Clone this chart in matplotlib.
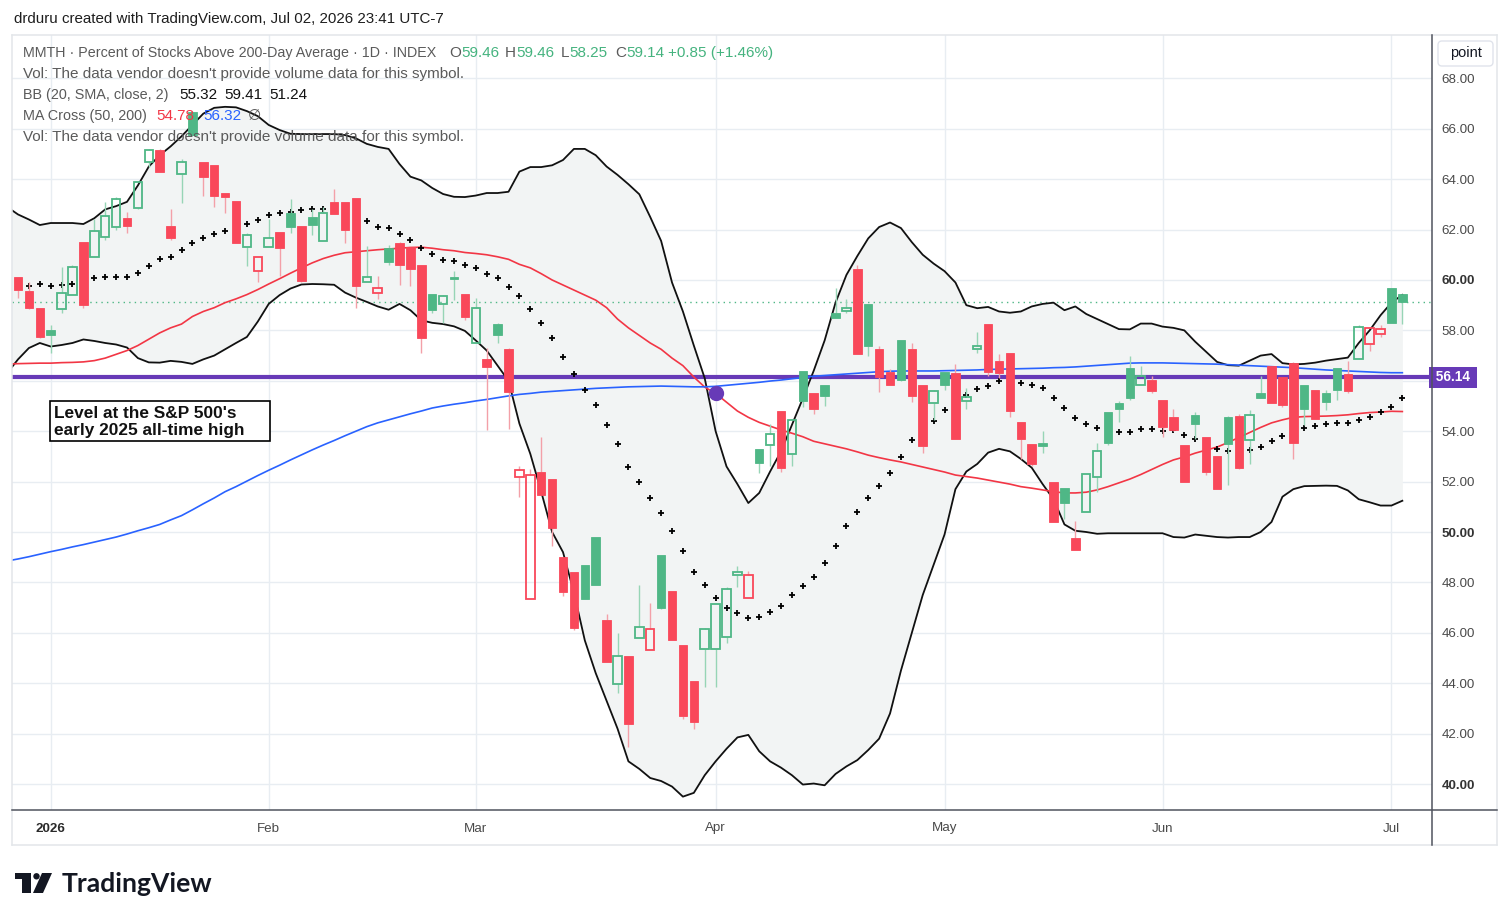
import numpy as np
import matplotlib
matplotlib.use("Agg")
import matplotlib.pyplot as plt
from matplotlib.patches import Rectangle, FancyBboxPatch, Polygon, Circle
from matplotlib.lines import Line2D
import matplotlib.transforms as mtransforms

# ---------------- data ----------------
month_labels = ['2026', 'Feb', 'Mar', 'Apr', 'May', 'Jun', 'Jul']
month_bar_index = [3, 23, 42, 64, 85, 105, 126]
y_ticks = [40, 42, 44, 46, 48, 50, 52, 54, 58, 60, 62, 64, 66, 68]

prior_close = 60.3
opens = [60.1, 59.55, 58.9, 58.0, 58.85, 59.4, 61.5, 60.9, 61.7, 62.1,
         62.45, 62.85, 64.7, 65.15, 62.15, 64.2, 66.65, 64.7, 64.55, 63.45,
         63.15, 61.3, 60.35, 61.3, 61.9, 62.65, 62.15, 62.5, 61.55, 63.1,
         63.1, 63.25, 59.9, 59.5, 61.25, 61.45, 61.3, 60.6, 59.45, 59.05,
         60.1, 59.45, 57.5, 56.85, 58.25, 57.25, 52.2, 47.35, 52.4, 52.1,
         49.0, 48.4, 48.7, 49.8, 46.5, 43.95, 45.1, 45.8, 45.3, 49.1,
         47.65, 45.5, 44.1, 45.35, 45.35, 45.85, 48.3, 47.4, 53.3, 53.45,
         54.8, 53.1, 56.4, 55.5, 55.85, 58.7, 58.75, 60.45, 59.05, 57.25,
         56.35, 57.6, 57.25, 55.85, 55.1, 56.35, 56.3, 55.2, 57.25, 58.25,
         56.8, 57.1, 54.35, 53.5, 53.55, 52.0, 51.75, 49.75, 50.8, 52.2,
         54.75, 55.1, 56.5, 55.85, 56.05, 55.25, 54.55, 53.45, 54.65, 53.75,
         53.0, 54.55, 54.6, 53.65, 55.5, 56.6, 56.15, 56.7, 55.85, 55.65,
         55.5, 56.5, 56.25, 56.85, 57.45, 57.85, 59.7, 59.46]
highs = [60.1, 59.9, 58.9, 58.2, 60.5, 60.6, 61.5, 62.4, 63.1, 63.3,
         62.7, 63.9, 65.2, 65.2, 62.8, 64.8, 66.7, 64.7, 64.55, 63.45,
         63.15, 61.85, 60.9, 62.4, 61.9, 63.2, 62.15, 62.8, 62.9, 63.6,
         63.1, 63.25, 61.35, 60.15, 61.4, 61.5, 61.3, 60.6, 59.45, 59.4,
         60.35, 59.45, 59.3, 57.3, 58.3, 57.3, 52.6, 52.5, 53.75, 52.1,
         49.0, 48.4, 48.7, 49.8, 46.75, 46.0, 45.1, 47.9, 47.2, 49.1,
         47.65, 45.5, 44.1, 46.2, 47.15, 47.8, 48.65, 48.45, 53.3, 54.3,
         54.8, 54.5, 56.4, 55.5, 55.85, 59.7, 59.25, 60.6, 59.05, 57.4,
         56.45, 57.6, 57.5, 55.85, 55.65, 56.35, 56.65, 55.7, 57.95, 58.25,
         57.05, 57.1, 54.35, 53.5, 54.0, 52.0, 51.75, 50.45, 52.3, 53.55,
         54.75, 55.2, 57.0, 56.6, 56.2, 55.25, 54.9, 53.45, 54.75, 53.75,
         53.0, 54.6, 54.7, 54.85, 56.2, 56.6, 56.15, 56.75, 55.85, 55.65,
         55.65, 56.5, 56.8, 58.2, 58.15, 58.2, 59.7, 59.46]
lows = [59.3, 58.85, 57.7, 57.1, 58.7, 59.4, 58.9, 60.9, 61.6, 62.0,
        61.85, 62.8, 64.5, 64.3, 61.6, 63.05, 65.7, 63.35, 62.9, 62.65,
        61.45, 60.55, 59.9, 61.3, 60.15, 61.85, 59.9, 61.8, 61.55, 62.6,
        61.45, 58.9, 59.9, 59.25, 60.6, 59.8, 59.75, 57.1, 58.7, 58.3,
        59.2, 58.4, 57.5, 54.05, 57.5, 54.1, 51.4, 47.35, 51.45, 49.45,
        47.45, 46.1, 47.35, 47.9, 44.85, 43.6, 41.45, 45.8, 45.3, 46.95,
        45.7, 42.6, 42.2, 43.85, 43.85, 45.6, 47.8, 47.4, 52.35, 52.6,
        52.4, 52.6, 54.95, 54.7, 55.0, 58.5, 58.7, 57.05, 57.0, 55.55,
        55.85, 56.0, 55.15, 53.15, 54.45, 55.65, 53.7, 54.9, 57.1, 56.2,
        56.1, 54.55, 52.9, 52.6, 53.15, 50.4, 50.5, 49.3, 50.8, 51.6,
        53.45, 54.35, 55.25, 55.85, 55.5, 53.75, 54.0, 52.0, 53.7, 52.25,
        51.7, 51.85, 52.5, 52.7, 55.3, 55.1, 54.95, 52.9, 54.25, 54.5,
        54.85, 55.25, 55.5, 56.85, 57.2, 57.75, 58.29, 58.25]
closes = [59.6, 58.9, 57.75, 57.8, 59.5, 60.5, 59.0, 61.95, 62.55, 63.2,
          62.15, 63.9, 65.15, 64.3, 61.65, 64.7, 65.75, 64.1, 63.35, 63.3,
          61.45, 61.8, 60.9, 61.65, 61.25, 62.1, 59.95, 62.2, 62.65, 62.6,
          62.0, 59.75, 60.1, 59.7, 60.7, 60.6, 60.45, 57.7, 58.8, 59.35,
          60.05, 58.55, 58.9, 56.55, 57.8, 55.55, 52.45, 52.25, 51.45, 50.15,
          47.6, 46.2, 47.35, 47.9, 44.85, 45.1, 42.4, 46.25, 46.15, 47.0,
          45.7, 42.7, 42.45, 46.15, 47.15, 47.75, 48.4, 48.3, 52.75, 53.9,
          52.55, 54.45, 55.2, 54.9, 55.4, 58.5, 58.9, 57.05, 57.4, 56.15,
          55.85, 56.05, 55.4, 53.4, 55.6, 55.85, 53.7, 55.35, 57.4, 56.35,
          56.3, 54.8, 53.7, 52.7, 53.4, 50.4, 51.15, 49.3, 52.3, 53.2,
          53.55, 54.9, 55.3, 56.2, 55.6, 54.15, 54.05, 52.0, 54.3, 52.4,
          51.7, 53.5, 52.55, 54.65, 55.3, 55.1, 55.05, 53.55, 54.9, 54.5,
          55.15, 55.65, 55.6, 58.15, 58.1, 58.05, 58.29, 59.14]

# indicator lines: first value belongs to the bar before the first candle
bb_upper = [62.9,
            62.6, 62.4, 62.18, 62.26, 62.26, 62.26, 62.22, 62.45, 62.8, 62.93,
            63.1, 63.75, 64.5, 64.95, 65.3, 65.7, 66.15, 66.6, 66.83, 66.87,
            66.85, 66.7, 66.5, 66.15, 65.95, 65.8, 65.79, 65.79, 65.79, 65.79,
            65.75, 65.62, 65.4, 65.28, 65.2, 64.6, 64.1, 63.95, 63.65, 63.41,
            63.3, 63.29, 63.35, 63.45, 63.45, 63.5, 64.3, 64.48, 64.48, 64.55,
            64.76, 65.2, 65.2, 64.95, 64.5, 64.17, 63.8, 63.4, 62.5, 61.55,
            59.9, 58.75, 57.4, 56.1, 54.0, 52.6, 51.9, 51.15, 51.55, 52.4,
            53.2, 54.25, 55.3, 56.4, 57.6, 59.1, 60.2, 60.95, 61.65, 62.1,
            62.28, 62.06, 61.5, 61.0, 60.65, 60.35, 59.9, 59.0, 58.88, 58.93,
            58.75, 58.7, 58.75, 58.95, 59.05, 59.1, 58.8, 58.95, 58.65, 58.45,
            58.25, 58.05, 58.04, 58.27, 58.27, 58.15, 58.1, 58.0, 57.55, 57.15,
            56.75, 56.62, 56.6, 56.8, 57.0, 57.06, 56.7, 56.65, 56.67, 56.72,
            56.8, 56.86, 56.92, 57.5, 58.0, 58.6, 59.1, 59.41]
bb_lower = [56.3,
            56.85, 57.3, 57.5, 57.36, 57.42, 57.5, 57.64, 57.58, 57.5, 57.44,
            57.32, 56.9, 56.73, 56.72, 56.79, 56.75, 56.67, 56.85, 57.0, 57.25,
            57.5, 57.74, 58.35, 59.05, 59.4, 59.66, 59.82, 59.84, 59.83, 59.81,
            59.5, 59.3, 59.13, 58.95, 58.82, 59.05, 58.8, 58.4, 58.3, 58.25,
            58.16, 57.98, 57.6, 57.2, 56.6, 56.0, 54.3, 53.1, 51.6, 50.0,
            49.2, 47.6, 45.7, 44.4, 43.3, 42.2, 40.9, 40.6, 40.24, 40.12,
            39.9, 39.5, 39.65, 40.35, 40.9, 41.4, 41.85, 41.95, 41.3, 40.9,
            40.65, 40.35, 39.98, 40.02, 39.95, 40.4, 40.7, 40.95, 41.35, 41.8,
            42.8, 44.5, 46.0, 47.5, 48.7, 49.9, 51.7, 52.4, 52.7, 53.15,
            53.3, 53.2, 52.9, 52.55, 51.9, 51.3, 50.3, 50.05, 50.0, 49.93,
            49.95, 49.95, 49.95, 49.95, 49.95, 49.95, 49.8, 49.78, 49.9, 49.85,
            49.8, 49.78, 49.8, 49.8, 50.0, 50.4, 51.4, 51.7, 51.82, 51.83,
            51.84, 51.83, 51.65, 51.3, 51.18, 51.05, 51.05, 51.24]
sma50 = [56.66,
         56.68, 56.69, 56.70, 56.70, 56.72, 56.73, 56.75, 56.80, 56.90, 57.05,
         57.20, 57.40, 57.65, 57.90, 58.10, 58.25, 58.55, 58.75, 58.90, 59.10,
         59.25, 59.42, 59.62, 59.84, 60.05, 60.27, 60.48, 60.68, 60.85, 60.98,
         61.08, 61.12, 61.16, 61.20, 61.23, 61.26, 61.29, 61.30, 61.26, 61.20,
         61.16, 61.09, 61.05, 61.00, 60.92, 60.82, 60.62, 60.48, 60.25, 60.00,
         59.80, 59.60, 59.40, 59.20, 58.90, 58.45, 58.10, 57.80, 57.50, 57.25,
         56.90, 56.60, 56.15, 55.75, 55.50, 55.15, 54.80, 54.55, 54.35, 54.20,
         54.05, 53.92, 53.78, 53.60, 53.50, 53.40, 53.30, 53.18, 53.05, 52.95,
         52.86, 52.78, 52.68, 52.58, 52.48, 52.38, 52.26, 52.20, 52.14, 52.06,
         51.98, 51.90, 51.80, 51.74, 51.67, 51.60, 51.55, 51.55, 51.58, 51.67,
         51.80, 51.95, 52.10, 52.28, 52.48, 52.68, 52.86, 52.98, 53.13, 53.25,
         53.37, 53.55, 53.75, 53.95, 54.15, 54.33, 54.45, 54.55, 54.58, 54.59,
         54.60, 54.62, 54.65, 54.70, 54.74, 54.76, 54.79, 54.78]
sma200 = [48.85,
          48.93, 49.02, 49.12, 49.22, 49.31, 49.41, 49.50, 49.60, 49.70, 49.80,
          49.92, 50.05, 50.17, 50.30, 50.48, 50.65, 50.88, 51.12, 51.35, 51.60,
          51.80, 52.02, 52.24, 52.45, 52.65, 52.86, 53.06, 53.26, 53.45, 53.63,
          53.82, 54.00, 54.18, 54.33, 54.45, 54.57, 54.69, 54.80, 54.92, 55.00,
          55.07, 55.13, 55.20, 55.26, 55.33, 55.40, 55.46, 55.50, 55.55, 55.58,
          55.61, 55.64, 55.67, 55.70, 55.72, 55.74, 55.76, 55.77, 55.78, 55.79,
          55.78, 55.77, 55.76, 55.76, 55.78, 55.82, 55.86, 55.90, 55.94, 55.99,
          56.03, 56.08, 56.13, 56.18, 56.21, 56.24, 56.27, 56.30, 56.33, 56.36,
          56.38, 56.39, 56.39, 56.39, 56.39, 56.40, 56.41, 56.42, 56.43, 56.45,
          56.46, 56.47, 56.48, 56.49, 56.50, 56.52, 56.53, 56.55, 56.58, 56.61,
          56.64, 56.67, 56.70, 56.71, 56.71, 56.71, 56.70, 56.69, 56.68, 56.67,
          56.66, 56.64, 56.62, 56.60, 56.58, 56.56, 56.54, 56.52, 56.49, 56.46,
          56.43, 56.41, 56.39, 56.37, 56.35, 56.33, 56.32, 56.32]
sar = [59.8, 59.76, 59.84, 59.76, 59.8, 59.84, 59.9, 60.08, 60.12, 60.12,
       60.12, 60.28, 60.56, 60.83, 60.91, 61.19, 61.47, 61.67, 61.83, 61.94,
       62.08, 62.22, 62.38, 62.58, 62.66, 62.7, 62.78, 62.82, 62.82, 62.85,
       62.88, 62.9, 62.34, 62.1, 62.06, 61.83, 61.59, 61.27, 61.03, 60.81,
       60.75, 60.6, 60.46, 60.24, 60.06, 59.72, 59.37, 58.85, 58.29, 57.7,
       56.94, 56.27, 55.63, 55.04, 54.25, 53.49, 52.58, 51.98, 51.35, 50.75,
       50.04, 49.25, 48.41, 47.9, 47.38, 46.98, 46.79, 46.59, 46.63, 46.83,
       47.06, 47.5, 47.86, 48.21, 48.77, 49.44, 50.22, 50.79, 51.35, 51.83,
       52.34, 52.98, 53.65, 54.05, 54.4, 54.84, 55.15, 55.44, 55.67, 55.8,
       55.99, 56.05, 55.9, 55.83, 55.71, 55.32, 54.92, 54.52, 54.29, 54.13,
       54.03, 53.97, 53.97, 54.09, 54.09, 54.0, 54.05, 53.85, 53.69, 53.45,
       53.29, 53.21, 53.2, 53.25, 53.37, 53.61, 53.81, 54.0, 54.13, 54.21,
       54.29, 54.33, 54.33, 54.44, 54.56, 54.76, 54.96, 55.32]

level_value = 56.14
level_text = "Level at the S&P 500's\nearly 2025 all-time high"
cross_bar = 64
bb_legend = ['55.32', '59.41', '51.24']
ma_legend = ['54.78', '56.32']

# ---------------- style ----------------
W, H = 1510, 921
GREEN = '#4fb786'
RED = '#f9485a'
GREEN_W = '#97d5b6'
RED_W = '#f3a0a8'
PURPLE = '#673ab7'
GRID = '#e8edf2'
FONT = ['Liberation Sans', 'DejaVu Sans']

fig = plt.figure(figsize=(W / 100, H / 100), dpi=100)
fig.patch.set_facecolor('white')

L, R, T, B = 12, 1432, 35, 810
ax = fig.add_axes([L / W, 1 - B / H, (R - L) / W, (B - T) / H])
ax.set_xlim(-0.55, 129.72)
ax.set_ylim(38.97, 69.72)
for s in ax.spines.values():
    s.set_visible(False)

n = len(closes)
xi = np.arange(n)
xl = np.arange(-1, n)

# ticks & grid
ax.set_xticks(month_bar_index)
ax.set_xticklabels(month_labels)
ax.set_yticks(y_ticks)
ax.set_yticklabels(['%.2f' % v for v in y_ticks])
ax.yaxis.tick_right()
ax.tick_params(axis='both', length=0, labelsize=9.6, labelcolor='#4a4a4a')
ax.tick_params(axis='x', pad=9)
ax.tick_params(axis='y', pad=7)
for lab in ax.get_xticklabels():
    lab.set_family(FONT)
    if lab.get_text() == '2026':
        lab.set_weight('bold')
        lab.set_color('#2a2a2a')
for lab in ax.get_yticklabels():
    lab.set_family(FONT)
    if lab.get_text() in ('40.00', '50.00', '60.00'):
        lab.set_weight('bold')
        lab.set_color('#333333')
for v in month_bar_index:
    ax.axvline(v, color=GRID, lw=1, zorder=0.5)
for v in range(40, 70, 2):
    ax.axhline(v, color=GRID, lw=1, zorder=0.5)

# Bollinger band
ax.fill_between(xl, bb_lower, bb_upper, color='#f2f4f4', lw=0, zorder=1)
ax.plot(xl, bb_upper, color='#111111', lw=1.3, zorder=4)
ax.plot(xl, bb_lower, color='#111111', lw=1.3, zorder=4)

# level & last price
ax.axhline(level_value, color=PURPLE, lw=3, zorder=3)
ax.axhline(closes[-1], color=GREEN, lw=1, ls=(0, (1, 3)), zorder=2)

# moving averages
ax.plot(xl, sma50, color='#f23645', lw=1.2, zorder=4)
ax.plot(xl, sma200, color='#2962ff', lw=1.2, zorder=4.2)
ax.plot([cross_bar], [sma50[cross_bar + 1]], 'o', color=PURPLE, ms=10, zorder=6)

# parabolic SAR
ax.plot(xi, sar, '+', color='black', ms=4.5, mew=1.3, ls='none', zorder=4.5)

# candles
bw = 0.78
prev = [prior_close] + closes[:-1]
for i in range(n):
    o, h, l, c = opens[i], highs[i], lows[i], closes[i]
    up = c >= prev[i]
    col = GREEN if up else RED
    wcol = GREEN_W if up else RED_W
    top, bot = max(o, c), min(o, c)
    if h > top:
        ax.plot([i, i], [top, h], color=wcol, lw=1, zorder=5, solid_capstyle='butt')
    if l < bot:
        ax.plot([i, i], [l, bot], color=wcol, lw=1, zorder=5, solid_capstyle='butt')
    hgt = max(top - bot, 0.06)
    if c > o:
        ax.add_patch(Rectangle((i - bw / 2, bot), bw, hgt, fc='none', ec=col, lw=1.3, zorder=5.5))
    else:
        ax.add_patch(Rectangle((i - bw / 2, bot), bw, hgt, fc=col, ec=col, lw=0.6, zorder=5.5))

# level price label on axis
blend = mtransforms.blended_transform_factory(ax.transAxes, ax.transData)
ax.text(1.0, level_value, ' %.2f ' % level_value, transform=blend, ha='left', va='center',
        fontsize=9.8, color='white', weight='bold', family=FONT, clip_on=False, zorder=20,
        bbox=dict(boxstyle='square,pad=0.25', fc=PURPLE, ec='none'))

# ---------------- overlay in pixel coordinates ----------------
ov = fig.add_axes([0, 0, 1, 1], zorder=10)
ov.set_xlim(0, W)
ov.set_ylim(H, 0)
ov.axis('off')
ov.patch.set_alpha(0)
renderer = fig.canvas.get_renderer()

# frame
for (x0, y0, x1, y1, c) in [(12, 35, 1497, 35, '#e3e6ea'), (12, 845, 1497, 845, '#e3e6ea'),
                            (12, 35, 12, 845, '#e3e6ea'), (1497, 35, 1497, 845, '#e3e6ea'),
                            (12, 810, 1497, 810, '#50535e'), (1432, 35, 1432, 845, '#50535e')]:
    ov.add_line(Line2D([x0, x1], [y0, y1], color=c, lw=1.1))


def fit_text(x, y, s, target_w, family, weight='normal', color='#000', base=10.0):
    t = ov.text(x, y, s, fontsize=base, family=family, weight=weight, color=color,
                va='center', ha='left')
    w = t.get_window_extent(renderer).width
    t.set_fontsize(base * target_w / w)
    return t


fit_text(14, 19, 'drduru created with TradingView.com, Jul 02, 2026 23:41 UTC-7', 431, FONT,
         color='#1e1e1e')

LEG_GRAY = '#5a5a5a'
LEG_GREEN = '#45b37f'
vol_txt = "Vol: The data vendor doesn't provide volume data for this symbol."
tv = fit_text(23, 74, vol_txt, 442, FONT, color=LEG_GRAY)
fs = tv.get_fontsize()
ov.text(23, 137, vol_txt, fontsize=fs, family=FONT, color=LEG_GRAY, va='center')


def seq(x, y, parts):
    for s, c in parts:
        t = ov.text(x, y, s, fontsize=fs, family=FONT, color=c, va='center', ha='left')
        x += t.get_window_extent(renderer).width


fit_text(23, 53, 'MMTH · Percent of Stocks Above 200-Day Average · 1D · INDEX', 414, FONT,
         color=LEG_GRAY, base=fs)
for xx, letter, val in [(449, 'O', '%.2f' % opens[-1]), (505, 'H', '%.2f' % highs[-1]),
                        (561, 'L', '%.2f' % lows[-1]), (615, 'C', '%.2f' % closes[-1])]:
    seq(xx, 53, [(letter, LEG_GRAY), (val, LEG_GREEN)])
chg = closes[-1] - closes[-2]
ov.text(668, 53, '+%.2f (+%.2f%%)' % (chg, chg / closes[-2] * 100), fontsize=fs, family=FONT,
        color=LEG_GREEN, va='center')

fit_text(23, 95, 'BB (20, SMA, close, 2)', 145, FONT, color=LEG_GRAY, base=fs)
for xx, v in zip([179, 224, 269], bb_legend):
    ov.text(xx, 95, v, fontsize=fs, family=FONT, color='#111111', va='center')
fit_text(23, 116, 'MA Cross (50, 200)', 124, FONT, color=LEG_GRAY, base=fs)
ov.text(156, 116, ma_legend[0], fontsize=fs, family=FONT, color='#f23645', va='center')
ov.text(203, 116, ma_legend[1], fontsize=fs, family=FONT, color='#2962ff', va='center')
ov.text(248, 116, '∅', fontsize=fs, family=FONT, color=LEG_GRAY, va='center')

# annotation box
ov.add_patch(Rectangle((50, 401), 220, 40, fc='white', ec='black', lw=1.2, zorder=11))
lines = level_text.split('\n')
ta = fit_text(54, 413, lines[0], 182, FONT, weight='bold', color='#111111', base=12)
ta.set_zorder(12)
tb = ov.text(54, 430.5, lines[1], fontsize=ta.get_fontsize(), family=FONT, weight='bold',
             color='#111111', va='center', zorder=12)

# "point" button
ov.add_patch(FancyBboxPatch((1438, 41), 55, 25, boxstyle='round,pad=0,rounding_size=4',
                            fc='white', ec='#e0e3eb', lw=1, zorder=11))
ov.text(1465.5, 53.5, 'point', fontsize=10.5, family=FONT, color='#131722', ha='center',
        va='center', zorder=12)

# TradingView logo
ov.add_patch(Polygon([(15, 873), (31, 873), (31, 893), (22, 893), (22, 879), (15, 879)],
                     closed=True, fc='#131722', ec='none'))
ov.add_patch(Circle((36.5, 876.3), 3.2, fc='#131722', ec='none'))
ov.add_patch(Polygon([(42, 873), (52, 873), (43, 893), (33, 893)], closed=True,
                     fc='#131722', ec='none'))
fit_text(62, 883.5, 'TradingView', 151, ['Lato', 'DejaVu Sans'], weight='bold', color='#131722',
         base=18)

fig.savefig('out.png', dpi=100)
